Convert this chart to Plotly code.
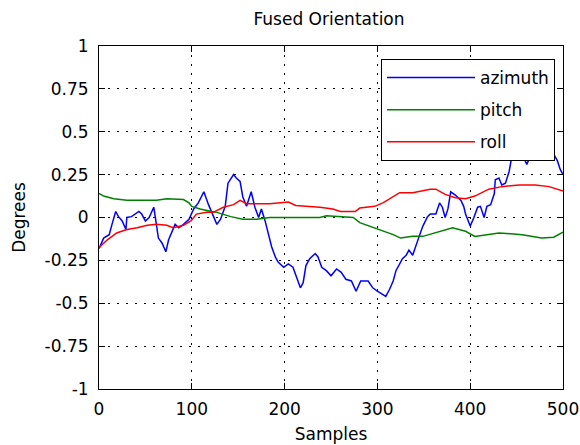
import plotly.graph_objects as go

# Sample indices and readings for each orientation angle
az_samples = [0, 1, 5, 8, 11, 14, 18, 21, 25, 29, 30, 35, 39, 43, 46, 50, 54, 59, 61, 64,
              68, 72, 75, 79, 82, 86, 91, 97, 102, 107, 113, 118, 123, 127, 131, 136, 139,
              145, 148, 152, 155, 159, 164, 168, 172, 175, 179, 182, 186, 190, 193, 199,
              204, 209, 212, 217, 220, 223, 227, 233, 236, 240, 245, 250, 256, 261, 266,
              272, 277, 282, 290, 295, 300, 306, 309, 313, 317, 320, 324, 327, 331, 334,
              338, 342, 345, 349, 354, 357, 363, 367, 370, 373, 376, 379, 384, 390, 393,
              395, 399, 400, 404, 408, 411, 415, 418, 422, 426, 427, 431, 434, 438, 442,
              445, 450, 455, 461, 465, 470, 478, 485, 490, 494, 497, 500]
azimuth = [-0.18, -0.17, -0.12, -0.11, -0.10, -0.04, 0.035, 0.005, -0.02, -0.07, 0.0, 0.005,
           0.02, 0.035, 0.02, -0.02, 0.0, 0.06, -0.01, -0.12, -0.15, -0.20, -0.13, -0.08,
           -0.04, -0.06, -0.04, -0.01, 0.05, 0.085, 0.15, 0.075, 0.005, -0.04, -0.01, 0.065,
           0.20, 0.25, 0.23, 0.21, 0.12, 0.065, 0.15, 0.06, 0.0, 0.05, -0.02, -0.09, -0.17,
           -0.23, -0.26, -0.29, -0.27, -0.29, -0.34, -0.41, -0.38, -0.28, -0.24, -0.21,
           -0.23, -0.29, -0.31, -0.34, -0.30, -0.32, -0.36, -0.37, -0.43, -0.37, -0.37,
           -0.41, -0.43, -0.45, -0.46, -0.42, -0.37, -0.31, -0.27, -0.24, -0.22, -0.19,
           -0.22, -0.15, -0.11, -0.05, 0.005, 0.02, 0.02, 0.085, 0.06, 0.0, 0.05, 0.15, 0.13,
           0.10, 0.065, 0.02, -0.03, -0.05, 0.0, 0.06, 0.065, 0.0, 0.065, 0.075, 0.14, 0.22,
           0.23, 0.19, 0.20, 0.27, 0.36, 0.40, 0.38, 0.31, 0.36, 0.42, 0.45, 0.41, 0.37,
           0.33, 0.28, 0.25]

pitch_samples = [0, 5, 16, 30, 62, 73, 91, 97, 100, 109, 121, 127, 142, 155, 170, 184, 202,
                 238, 245, 260, 274, 281, 292, 303, 317, 325, 338, 349, 363, 381, 395, 405,
                 431, 456, 477, 490, 500]
pitch = [0.14, 0.125, 0.11, 0.10, 0.10, 0.11, 0.105, 0.085, 0.065, 0.05, 0.035, 0.03, 0.005,
         -0.01, -0.01, 0.0, 0.0, 0.0, 0.01, 0.005, 0.0, -0.03, -0.05, -0.07, -0.10, -0.12,
         -0.11, -0.11, -0.09, -0.06, -0.08, -0.11, -0.09, -0.10, -0.12, -0.115, -0.085]

roll_samples = [0, 1, 9, 19, 30, 41, 52, 62, 73, 80, 91, 99, 105, 116, 123, 134, 145, 152,
                159, 184, 204, 212, 238, 252, 260, 276, 281, 297, 306, 324, 338, 357, 363,
                373, 384, 395, 405, 420, 434, 453, 470, 485, 500]
roll = [-0.18, -0.17, -0.13, -0.09, -0.07, -0.06, -0.045, -0.04, -0.045, -0.06, -0.045,
        -0.02, 0.02, 0.03, 0.03, 0.06, 0.075, 0.10, 0.08, 0.08, 0.09, 0.07, 0.06, 0.05,
        0.035, 0.035, 0.055, 0.065, 0.085, 0.145, 0.145, 0.165, 0.165, 0.135, 0.115, 0.11,
        0.125, 0.165, 0.18, 0.19, 0.19, 0.18, 0.155]

x_ticks = [0, 100, 200, 300, 400, 500]
y_ticks = [-1, -0.75, -0.5, -0.25, 0, 0.25, 0.5, 0.75, 1]
y_tick_text = ["-1", "-0.75", "-0.5", "-0.25", "0", "0.25", "0.5", "0.75", "1"]

FONT = "DejaVu Sans, Verdana, sans-serif"
FS = 17

fig = go.Figure()
series = [
    ("azimuth", az_samples, azimuth, "#0000ff"),
    ("pitch", pitch_samples, pitch, "#008000"),
    ("roll", roll_samples, roll, "#ff0000"),
]
for i, (name, xs, ys, color) in enumerate(series):
    fig.add_trace(go.Scatter(
        x=xs, y=ys, mode="lines", name=name, legendgroup=f"g{i}",
        line=dict(color=color, width=1.5),
    ))

axis_common = dict(
    showline=True, linecolor="black", linewidth=1, mirror="ticks",
    ticks="inside", ticklen=6, tickcolor="black", tickwidth=1,
    showgrid=True, gridcolor="black", gridwidth=1, griddash="2px,7px",
    zeroline=False, automargin=False, ticklabeloverflow="allow",
    tickfont=dict(family=FONT, size=FS, color="black"),
)

L, R = 99, 17
PW = 580 - L - R

fig.update_layout(
    width=580, height=445,
    margin=dict(l=L, r=R, t=46, b=56, autoexpand=False),
    paper_bgcolor="white", plot_bgcolor="white",
    title=dict(text="Fused Orientation", x=329 / 580, xanchor="center",
               y=1 - 19 / 445, yanchor="middle",
               font=dict(family=FONT, size=FS, color="black")),
    xaxis=dict(range=[0, 500], tickvals=x_ticks, ticklabelstandoff=5,
               title=dict(text="Samples", standoff=9,
                          font=dict(family=FONT, size=FS, color="black")),
               **axis_common),
    yaxis=dict(range=[-1, 1], tickvals=y_ticks, ticktext=y_tick_text,
               ticklabelstandoff=6,
               title=dict(text="Degrees", standoff=14,
                          font=dict(family=FONT, size=FS, color="black")),
               **axis_common),
    legend=dict(
        x=(555 - L) / PW, xanchor="right", y=1 - 13 / 343, yanchor="top",
        bgcolor="white", bordercolor="black", borderwidth=1,
        font=dict(family=FONT, size=FS, color="black"),
        itemwidth=88, tracegroupgap=7,
    ),
    showlegend=True,
)

fig.write_html("out.html")
